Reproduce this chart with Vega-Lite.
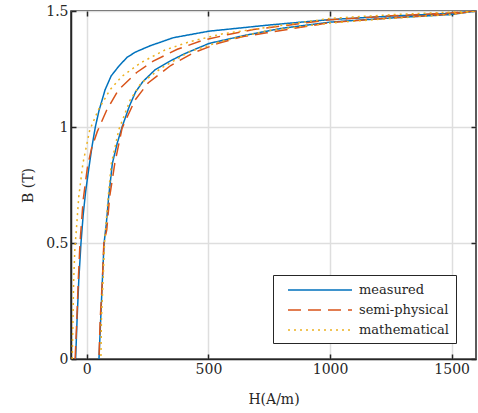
{
  "$schema": "https://vega.github.io/schema/vega-lite/v6.json",
  "width": 405,
  "height": 348,
  "autosize": {"type": "none"},
  "padding": {"left": 71, "top": 11, "right": 2, "bottom": 54},
  "config": {
    "font": "DejaVu Serif",
    "view": {"stroke": "#262626", "strokeWidth": 1.5},
    "axis": {
      "labelFont": "DejaVu Serif",
      "labelFontSize": 14,
      "labelColor": "#262626",
      "titleFont": "DejaVu Serif",
      "titleFontSize": 14,
      "titleFontWeight": "normal",
      "titleColor": "#262626",
      "domainColor": "#262626",
      "domainWidth": 1.5,
      "tickColor": "#262626",
      "tickWidth": 1.5,
      "tickSize": -5,
      "gridColor": "#dedede",
      "gridWidth": 1.5,
      "gridOpacity": 1
    },
    "legend": {
      "labelFont": "DejaVu Serif",
      "labelFontSize": 13,
      "labelColor": "#262626"
    }
  },
  "data": {
    "values": [
      {"s": "measured", "i": 1, "H": -46, "B": 0},
      {"s": "measured", "i": 2, "H": -40, "B": 0.17},
      {"s": "measured", "i": 3, "H": -33, "B": 0.34},
      {"s": "measured", "i": 4, "H": -24, "B": 0.5},
      {"s": "measured", "i": 5, "H": -15, "B": 0.62},
      {"s": "measured", "i": 6, "H": -5, "B": 0.72},
      {"s": "measured", "i": 7, "H": 8, "B": 0.82},
      {"s": "measured", "i": 8, "H": 22, "B": 0.92},
      {"s": "measured", "i": 9, "H": 35, "B": 1.0},
      {"s": "measured", "i": 10, "H": 50, "B": 1.07},
      {"s": "measured", "i": 11, "H": 75, "B": 1.16},
      {"s": "measured", "i": 12, "H": 100, "B": 1.22},
      {"s": "measured", "i": 13, "H": 130, "B": 1.26},
      {"s": "measured", "i": 14, "H": 165, "B": 1.3},
      {"s": "measured", "i": 15, "H": 200, "B": 1.323},
      {"s": "measured", "i": 16, "H": 260, "B": 1.35},
      {"s": "measured", "i": 17, "H": 356, "B": 1.385},
      {"s": "measured", "i": 18, "H": 502, "B": 1.413},
      {"s": "measured", "i": 19, "H": 753, "B": 1.44},
      {"s": "measured", "i": 20, "H": 1000, "B": 1.463},
      {"s": "measured", "i": 21, "H": 1250, "B": 1.478},
      {"s": "measured", "i": 22, "H": 1500, "B": 1.49},
      {"s": "measured", "i": 23, "H": 1600, "B": 1.5},
      {"s": "measured", "i": 24, "H": 1500, "B": 1.485},
      {"s": "measured", "i": 25, "H": 1250, "B": 1.47},
      {"s": "measured", "i": 26, "H": 1000, "B": 1.452},
      {"s": "measured", "i": 27, "H": 800, "B": 1.425},
      {"s": "measured", "i": 28, "H": 650, "B": 1.395},
      {"s": "measured", "i": 29, "H": 502, "B": 1.36},
      {"s": "measured", "i": 30, "H": 400, "B": 1.315},
      {"s": "measured", "i": 31, "H": 340, "B": 1.283},
      {"s": "measured", "i": 32, "H": 280, "B": 1.246},
      {"s": "measured", "i": 33, "H": 230, "B": 1.195},
      {"s": "measured", "i": 34, "H": 200, "B": 1.15},
      {"s": "measured", "i": 35, "H": 175, "B": 1.09},
      {"s": "measured", "i": 36, "H": 145, "B": 1.0},
      {"s": "measured", "i": 37, "H": 125, "B": 0.93},
      {"s": "measured", "i": 38, "H": 105, "B": 0.843},
      {"s": "measured", "i": 39, "H": 90, "B": 0.7},
      {"s": "measured", "i": 40, "H": 80, "B": 0.58},
      {"s": "measured", "i": 41, "H": 71, "B": 0.5},
      {"s": "measured", "i": 42, "H": 64, "B": 0.34},
      {"s": "measured", "i": 43, "H": 57, "B": 0.17},
      {"s": "measured", "i": 44, "H": 50, "B": 0},

      {"s": "semi-physical", "i": 1, "H": -48, "B": 0},
      {"s": "semi-physical", "i": 2, "H": -41, "B": 0.17},
      {"s": "semi-physical", "i": 3, "H": -35, "B": 0.34},
      {"s": "semi-physical", "i": 4, "H": -28, "B": 0.5},
      {"s": "semi-physical", "i": 5, "H": -15, "B": 0.685},
      {"s": "semi-physical", "i": 6, "H": 3, "B": 0.83},
      {"s": "semi-physical", "i": 7, "H": 20, "B": 0.91},
      {"s": "semi-physical", "i": 8, "H": 43, "B": 0.98},
      {"s": "semi-physical", "i": 9, "H": 82, "B": 1.073},
      {"s": "semi-physical", "i": 10, "H": 130, "B": 1.16},
      {"s": "semi-physical", "i": 11, "H": 205, "B": 1.235},
      {"s": "semi-physical", "i": 12, "H": 273, "B": 1.284},
      {"s": "semi-physical", "i": 13, "H": 372, "B": 1.335},
      {"s": "semi-physical", "i": 14, "H": 472, "B": 1.372},
      {"s": "semi-physical", "i": 15, "H": 582, "B": 1.399},
      {"s": "semi-physical", "i": 16, "H": 685, "B": 1.42},
      {"s": "semi-physical", "i": 17, "H": 1000, "B": 1.462},
      {"s": "semi-physical", "i": 18, "H": 1250, "B": 1.479},
      {"s": "semi-physical", "i": 19, "H": 1500, "B": 1.492},
      {"s": "semi-physical", "i": 20, "H": 1600, "B": 1.5},
      {"s": "semi-physical", "i": 21, "H": 1500, "B": 1.487},
      {"s": "semi-physical", "i": 22, "H": 1250, "B": 1.47},
      {"s": "semi-physical", "i": 23, "H": 1000, "B": 1.45},
      {"s": "semi-physical", "i": 24, "H": 740, "B": 1.406},
      {"s": "semi-physical", "i": 25, "H": 643, "B": 1.39},
      {"s": "semi-physical", "i": 26, "H": 541, "B": 1.361},
      {"s": "semi-physical", "i": 27, "H": 438, "B": 1.32},
      {"s": "semi-physical", "i": 28, "H": 345, "B": 1.265},
      {"s": "semi-physical", "i": 29, "H": 252, "B": 1.19},
      {"s": "semi-physical", "i": 30, "H": 198, "B": 1.116},
      {"s": "semi-physical", "i": 31, "H": 145, "B": 0.995},
      {"s": "semi-physical", "i": 32, "H": 115, "B": 0.843},
      {"s": "semi-physical", "i": 33, "H": 94, "B": 0.7},
      {"s": "semi-physical", "i": 34, "H": 82, "B": 0.556},
      {"s": "semi-physical", "i": 35, "H": 70, "B": 0.5},
      {"s": "semi-physical", "i": 36, "H": 64, "B": 0.34},
      {"s": "semi-physical", "i": 37, "H": 55, "B": 0.17},
      {"s": "semi-physical", "i": 38, "H": 50, "B": 0},

      {"s": "mathematical", "i": 1, "H": -60, "B": 0},
      {"s": "mathematical", "i": 2, "H": -57, "B": 0.17},
      {"s": "mathematical", "i": 3, "H": -54, "B": 0.34},
      {"s": "mathematical", "i": 4, "H": -49, "B": 0.48},
      {"s": "mathematical", "i": 5, "H": -43, "B": 0.556},
      {"s": "mathematical", "i": 6, "H": -33, "B": 0.7},
      {"s": "mathematical", "i": 7, "H": -16, "B": 0.843},
      {"s": "mathematical", "i": 8, "H": 12, "B": 0.987},
      {"s": "mathematical", "i": 9, "H": 47, "B": 1.073},
      {"s": "mathematical", "i": 10, "H": 95, "B": 1.16},
      {"s": "mathematical", "i": 11, "H": 143, "B": 1.217},
      {"s": "mathematical", "i": 12, "H": 222, "B": 1.277},
      {"s": "mathematical", "i": 13, "H": 321, "B": 1.332},
      {"s": "mathematical", "i": 14, "H": 424, "B": 1.368},
      {"s": "mathematical", "i": 15, "H": 555, "B": 1.401},
      {"s": "mathematical", "i": 16, "H": 705, "B": 1.424},
      {"s": "mathematical", "i": 17, "H": 1000, "B": 1.468},
      {"s": "mathematical", "i": 18, "H": 1250, "B": 1.484},
      {"s": "mathematical", "i": 19, "H": 1500, "B": 1.495},
      {"s": "mathematical", "i": 20, "H": 1600, "B": 1.5},
      {"s": "mathematical", "i": 21, "H": 1500, "B": 1.485},
      {"s": "mathematical", "i": 22, "H": 1250, "B": 1.468},
      {"s": "mathematical", "i": 23, "H": 1000, "B": 1.448},
      {"s": "mathematical", "i": 24, "H": 740, "B": 1.415},
      {"s": "mathematical", "i": 25, "H": 548, "B": 1.368},
      {"s": "mathematical", "i": 26, "H": 424, "B": 1.325},
      {"s": "mathematical", "i": 27, "H": 308, "B": 1.255},
      {"s": "mathematical", "i": 28, "H": 222, "B": 1.188},
      {"s": "mathematical", "i": 29, "H": 178, "B": 1.116},
      {"s": "mathematical", "i": 30, "H": 132, "B": 0.99},
      {"s": "mathematical", "i": 31, "H": 101, "B": 0.843},
      {"s": "mathematical", "i": 32, "H": 88, "B": 0.7},
      {"s": "mathematical", "i": 33, "H": 77, "B": 0.556},
      {"s": "mathematical", "i": 34, "H": 73, "B": 0.5},
      {"s": "mathematical", "i": 35, "H": 67, "B": 0.34},
      {"s": "mathematical", "i": 36, "H": 60, "B": 0.17},
      {"s": "mathematical", "i": 37, "H": 58, "B": 0}
    ]
  },
  "layer": [
    {
      "mark": {"type": "line", "strokeWidth": 1.5, "clip": true},
      "encoding": {
        "x": {
          "field": "H", "type": "quantitative",
          "scale": {"domain": [-65, 1600], "nice": false, "zero": false},
          "axis": {"values": [0, 500, 1000, 1500], "format": "d", "title": "H(A/m)", "labelPadding": 8, "titlePadding": 16}
        },
        "y": {
          "field": "B", "type": "quantitative",
          "scale": {"domain": [0, 1.5], "nice": false},
          "axis": {"values": [0, 0.5, 1, 1.5], "format": "~g", "title": "B (T)", "labelPadding": 8, "titlePadding": 10}
        },
        "order": {"field": "i", "type": "quantitative"},
        "color": {
          "field": "s", "type": "nominal",
          "scale": {"domain": ["measured", "semi-physical", "mathematical"], "range": ["#0072BD", "#D95319", "#EDB120"]},
          "legend": {
            "title": null, "orient": "none", "legendX": 202, "legendY": 264,
            "symbolType": "M-4,0H4", "symbolSize": 256, "symbolStrokeWidth": 1.5,
            "strokeColor": "#262626", "fillColor": "white", "padding": 6,
            "rowPadding": 4, "labelOffset": 30, "symbolOffset": 32
          }
        },
        "strokeDash": {
          "field": "s", "type": "nominal",
          "scale": {"domain": ["measured", "semi-physical", "mathematical"], "range": [[1, 0], [13, 7], [2, 4]]},
          "legend": null
        }
      }
    },
    {
      "mark": {"type": "line", "opacity": 0},
      "encoding": {
        "x": {
          "field": "H", "type": "quantitative",
          "scale": {"domain": [-65, 1600], "nice": false, "zero": false},
          "axis": {"orient": "top", "values": [0, 500, 1000, 1500], "labels": false, "grid": false, "domain": false, "title": null}
        },
        "y": {
          "field": "B", "type": "quantitative",
          "scale": {"domain": [0, 1.5], "nice": false},
          "axis": {"orient": "right", "values": [0, 0.5, 1, 1.5], "labels": false, "grid": false, "domain": false, "title": null}
        },
        "detail": {"field": "s", "type": "nominal"}
      }
    }
  ],
  "resolve": {"axis": {"x": "independent", "y": "independent"}}
}
